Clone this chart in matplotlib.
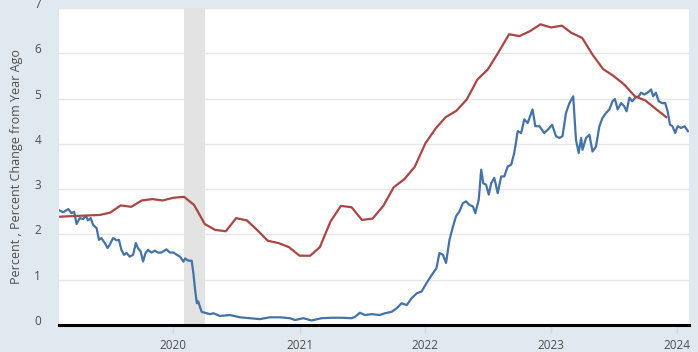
import numpy as np
import pandas as pd
import matplotlib
matplotlib.use("Agg")
import matplotlib.pyplot as plt
import matplotlib.transforms as mtransforms

# --- red series: monthly, percent change from year ago ---
red_start = "2019-02-01"
red_vals = [2.39, 2.40, 2.41, 2.42, 2.43, 2.48, 2.64, 2.61, 2.75, 2.78, 2.75,
            2.81, 2.83, 2.65, 2.23, 2.10, 2.07, 2.36, 2.31, 2.09, 1.86, 1.81, 1.72,
            1.53, 1.53, 1.72, 2.29, 2.63, 2.60, 2.32, 2.35, 2.63, 3.04, 3.22, 3.49,
            4.01, 4.35, 4.59, 4.73, 4.98, 5.42, 5.64, 6.02, 6.42, 6.38, 6.49, 6.64,
            6.57, 6.61, 6.45, 6.34, 5.97, 5.65, 5.50, 5.31, 5.05, 4.96, 4.77, 4.59]

# --- blue series: daily percent, sampled off the chart ---
blue_dates = [
    "2019-02-04", "2019-02-15", "2019-03-02", "2019-03-11", "2019-03-19", "2019-03-26",
    "2019-04-04", "2019-04-14", "2019-04-22", "2019-04-28", "2019-05-06", "2019-05-13",
    "2019-05-23", "2019-05-30", "2019-06-06", "2019-06-16", "2019-06-24", "2019-06-30",
    "2019-07-10", "2019-07-20", "2019-07-27", "2019-08-03", "2019-08-11", "2019-08-18",
    "2019-08-27", "2019-09-06", "2019-09-14", "2019-09-20", "2019-09-28", "2019-10-05",
    "2019-10-12", "2019-10-19", "2019-10-29", "2019-11-08", "2019-11-17", "2019-11-27",
    "2019-12-12", "2019-12-22", "2020-01-01", "2020-01-11", "2020-01-20", "2020-01-30",
    "2020-02-04", "2020-02-13", "2020-02-23", "2020-02-28", "2020-03-04", "2020-03-09",
    "2020-03-13", "2020-03-18", "2020-03-23", "2020-04-02", "2020-04-16", "2020-04-26",
    "2020-05-15", "2020-06-13", "2020-07-12", "2020-08-10", "2020-09-08", "2020-10-07",
    "2020-11-05", "2020-12-04", "2020-12-19", "2021-01-12", "2021-02-05", "2021-03-06",
    "2021-04-04", "2021-05-03", "2021-06-01", "2021-06-11", "2021-06-25", "2021-07-10",
    "2021-07-29", "2021-08-22", "2021-09-06", "2021-09-25", "2021-10-10", "2021-10-24",
    "2021-11-08", "2021-11-22", "2021-12-07", "2021-12-21", "2022-01-04", "2022-01-19",
    "2022-02-02", "2022-02-11", "2022-02-21", "2022-03-02", "2022-03-12", "2022-03-22",
    "2022-03-31", "2022-04-10", "2022-04-20", "2022-04-29", "2022-05-09", "2022-05-19",
    "2022-05-26", "2022-06-05", "2022-06-12", "2022-06-18", "2022-06-26", "2022-07-04",
    "2022-07-11", "2022-07-20", "2022-07-30", "2022-08-09", "2022-08-18", "2022-08-28",
    "2022-09-07", "2022-09-16", "2022-09-26", "2022-10-06", "2022-10-15", "2022-10-25",
    "2022-11-08", "2022-11-16", "2022-11-28", "2022-12-12", "2022-12-22", "2023-01-04",
    "2023-01-15", "2023-01-25", "2023-02-03", "2023-02-13", "2023-02-23", "2023-03-06",
    "2023-03-14", "2023-03-22", "2023-03-29", "2023-04-02", "2023-04-12", "2023-04-22",
    "2023-05-01", "2023-05-11", "2023-05-21", "2023-05-30", "2023-06-09", "2023-06-19",
    "2023-06-28", "2023-07-05", "2023-07-13", "2023-07-23", "2023-08-01", "2023-08-08",
    "2023-08-16", "2023-08-24", "2023-09-02", "2023-09-12", "2023-09-19", "2023-09-28",
    "2023-10-08", "2023-10-18", "2023-10-24", "2023-11-01", "2023-11-09", "2023-11-19",
    "2023-11-28", "2023-12-05", "2023-12-12", "2023-12-19", "2023-12-27", "2024-01-03",
    "2024-01-13", "2024-01-23", "2024-02-02",
]
blue_vals = [
    2.53, 2.49, 2.56, 2.47, 2.50, 2.23,
    2.36, 2.34, 2.41, 2.31, 2.36, 2.21,
    2.14, 1.88, 1.92, 1.81, 1.70, 1.77,
    1.92, 1.87, 1.88, 1.66, 1.55, 1.59,
    1.51, 1.55, 1.81, 1.70, 1.62, 1.40,
    1.59, 1.66, 1.60, 1.64, 1.60, 1.60,
    1.67, 1.60, 1.60, 1.55, 1.51, 1.40,
    1.47, 1.42, 1.42, 1.14, 0.77, 0.48,
    0.52, 0.40, 0.29, 0.27, 0.24, 0.26,
    0.20, 0.22, 0.17, 0.15, 0.13, 0.17,
    0.17, 0.15, 0.11, 0.15, 0.10, 0.15,
    0.16, 0.16, 0.15, 0.18, 0.27, 0.22,
    0.24, 0.22, 0.26, 0.29, 0.37, 0.48,
    0.44, 0.59, 0.70, 0.74, 0.92, 1.10,
    1.25, 1.59, 1.55, 1.37, 1.88, 2.17,
    2.40, 2.51, 2.69, 2.73, 2.65, 2.62,
    2.47, 2.77, 3.43, 3.13, 3.10, 2.88,
    3.13, 3.25, 2.91, 3.28, 3.28, 3.50,
    3.54, 3.80, 4.28, 4.24, 4.54, 4.46,
    4.76, 4.39, 4.39, 4.24, 4.31, 4.42,
    4.17, 4.13, 4.17, 4.68, 4.90, 5.05,
    4.09, 3.80, 4.13, 3.87, 4.13, 4.20,
    3.83, 3.94, 4.39, 4.57, 4.68, 4.76,
    4.94, 4.99, 4.76, 4.90, 4.83, 4.72,
    5.02, 4.94, 5.02, 5.05, 5.13, 5.09,
    5.13, 5.20, 5.05, 5.13, 4.94, 4.90,
    4.90, 4.72, 4.42, 4.39, 4.24, 4.39,
    4.35, 4.39, 4.28,
]

recession = ("2020-02-01", "2020-04-01")
x_range = ("2019-02-03", "2024-02-05")
y_ticks = [0, 1, 2, 3, 4, 5, 6, 7]
x_ticks = ["2020-01-01", "2021-01-01", "2022-01-01", "2023-01-01", "2024-01-01"]
x_labels = ["2020", "2021", "2022", "2023", "2024"]

BG = "#e1e9f0"
BLUE = "#4572a7"
RED = "#aa4643"
TXT = "#4d4d4d"

plt.rcParams["font.family"] = ["Open Sans", "DejaVu Sans"]

red_dates = pd.date_range(red_start, periods=len(red_vals), freq="MS")
blue_dt = pd.to_datetime(blue_dates)

fig = plt.figure(figsize=(6.98, 3.52), dpi=100, facecolor=BG)
ax = fig.add_axes([59 / 698, 27 / 352, 630 / 698, 317 / 352])
ax.set_facecolor("white")

ax.axvspan(pd.Timestamp(recession[0]), pd.Timestamp(recession[1]),
           color="#e3e3e3", lw=0, zorder=1)
ax.plot(blue_dt, blue_vals, color=BLUE, lw=1.6, zorder=3)
ax.plot(red_dates, red_vals, color=RED, lw=1.6, zorder=4)

ax.set_xlim(pd.Timestamp(x_range[0]), pd.Timestamp(x_range[1]))
ax.set_ylim(0, 7)
ax.set_yticks(y_ticks)
ax.set_yticklabels([str(t) for t in y_ticks])
ax.set_xticks(pd.to_datetime(x_ticks))
ax.set_xticklabels(x_labels)
ax.grid(axis="y", color="#e6e6e6", lw=1)
ax.set_axisbelow(True)

for s in ["top", "right", "left"]:
    ax.spines[s].set_visible(False)
ax.spines["bottom"].set_color("black")
ax.spines["bottom"].set_linewidth(2.2)
ax.spines["bottom"].set_zorder(5)

ax.tick_params(axis="y", length=0, pad=13, labelsize=8.5, labelcolor=TXT)
ax.tick_params(axis="x", length=6, width=1, color="#ccd6eb", pad=4,
               labelsize=8.5, labelcolor=TXT)
# labels sit a little above their grid lines, as in the original
shift = mtransforms.ScaledTranslation(0, 5 / 100, fig.dpi_scale_trans)
for lab in ax.get_yticklabels():
    lab.set_transform(lab.get_transform() + shift)
    lab.set_clip_on(False)

ax.set_ylabel("Percent , Percent Change from Year Ago", fontsize=9,
              color=TXT, labelpad=8)

fig.savefig("out.png", dpi=100, facecolor=BG)
